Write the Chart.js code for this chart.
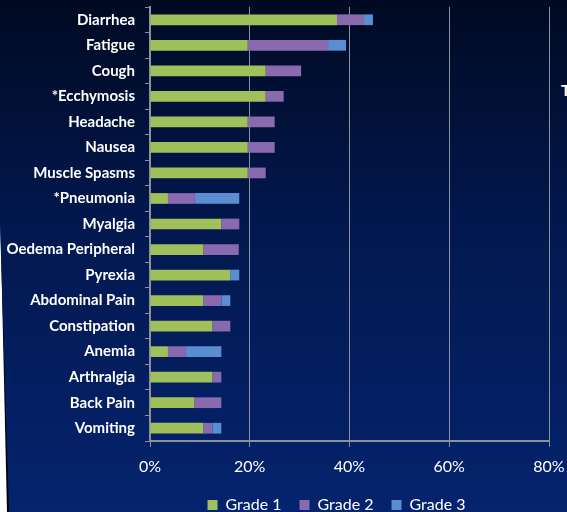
<!DOCTYPE html>
<html>
<head>
<meta charset="utf-8">
<script src="https://cdn.jsdelivr.net/npm/chart.js@4/dist/chart.umd.min.js"></script>
<style>
  html, body { margin: 0; padding: 0; background: #ffffff; overflow: hidden; }
  #frame { position: relative; width: 567px; height: 512px; overflow: hidden; }
  #edge { position: absolute; inset: 0; background: #000000;
          clip-path: polygon(0 0, 567px 0, 567px 512px, 7px 512px, 0 205px); }
  #panel { position: absolute; inset: 0;
           background: linear-gradient(to bottom, #000a22 0%, #02184f 45%, #05246e 100%);
           clip-path: polygon(0 0, 567px 0, 567px 512px, 9px 512px, 0 225px); }
  #side { position: absolute; left: 561px; top: 80px; color: #ffffff;
          font: bold 16px Lato, sans-serif; }
  canvas { position: absolute; left: 0; top: 0; }
</style>
</head>
<body>
<div id="frame">
  <div id="edge"></div>
  <div id="panel"></div>
  <div id="side">T</div>
  <canvas id="chart" width="567" height="512"></canvas>
</div>
<script>
// Adverse events by grade, percent of patients
const categories = [
  'Diarrhea', 'Fatigue', 'Cough', '*Ecchymosis', 'Headache', 'Nausea',
  'Muscle Spasms', '*Pneumonia', 'Myalgia', 'Oedema Peripheral', 'Pyrexia',
  'Abdominal Pain', 'Constipation', 'Anemia', 'Arthralgia', 'Back Pain', 'Vomiting'
];
const grade1 = [37.5, 19.6, 23.2, 23.2, 19.6, 19.6, 19.6, 3.6, 14.3, 10.7, 16.1, 10.7, 12.5, 3.6, 12.5, 8.9, 10.7];
const grade2 = [5.4, 16.1, 7.1, 3.6, 5.4, 5.4, 3.6, 5.4, 3.6, 7.1, 0, 3.6, 3.6, 3.6, 1.8, 5.4, 1.8];
const grade3 = [1.8, 3.6, 0, 0, 0, 0, 0, 8.9, 0, 0, 1.8, 1.8, 0, 7.1, 0, 0, 1.8];
const seriesNames = ['Grade 1', 'Grade 2', 'Grade 3'];
const xTicks = [0, 20, 40, 60, 80];

const colors = ['#9fc05a', '#8a6aaf', '#5b8ed0'];
const axisGray = '#8c909c';

// Centre the legend under the plot area rather than the whole canvas
const legendShift = {
  id: 'legendShift',
  afterLayout(chart) {
    const lg = chart.legend;
    if (!lg) return;
    lg.left += 62; lg.right += 62;
  }
};

const ctx = document.getElementById('chart').getContext('2d');
new Chart(ctx, {
  type: 'bar',
  data: {
    labels: categories,
    datasets: [grade1, grade2, grade3].map((values, i) => ({
      label: seriesNames[i],
      data: values,
      backgroundColor: colors[i],
      borderWidth: 0,
      categoryPercentage: 1,
      barPercentage: 0.42
    }))
  },
  options: {
    indexAxis: 'y',
    responsive: false,
    animation: false,
    layout: { padding: { left: 0, right: 18, top: 7, bottom: -11 } },
    scales: {
      x: {
        stacked: true,
        min: xTicks[0],
        max: xTicks[xTicks.length - 1],
        afterBuildTicks: (scale) => { scale.ticks = xTicks.map(v => ({ value: v })); },
        afterFit: (scale) => { scale.height = 38; scale.paddingLeft = 0; scale.paddingRight = 0; },
        grid: { color: axisGray, lineWidth: 1, tickLength: 6, drawTicks: true },
        border: { color: axisGray, width: 2 },
        ticks: {
          color: '#ffffff',
          font: { family: 'Lato', size: 16 },
          padding: 10,
          callback: (v) => v + '%'
        }
      },
      y: {
        stacked: true,
        afterFit: (scale) => { scale.width = 150; scale.paddingTop = 0; scale.paddingBottom = 0; },
        grid: { drawOnChartArea: false, color: axisGray, tickLength: 5, offset: true },
        border: { color: axisGray, width: 2 },
        ticks: {
          color: '#ffffff',
          font: { family: 'Lato', size: 15, weight: 'bold' },
          padding: 10
        }
      }
    },
    plugins: {
      legend: {
        position: 'bottom',
        labels: {
          color: '#ffffff',
          font: { family: 'Lato', size: 16 },
          boxWidth: 10,
          boxHeight: 10,
          padding: 18
        }
      },
      tooltip: { enabled: false }
    }
  },
  plugins: [legendShift]
});
</script>
</body>
</html>
